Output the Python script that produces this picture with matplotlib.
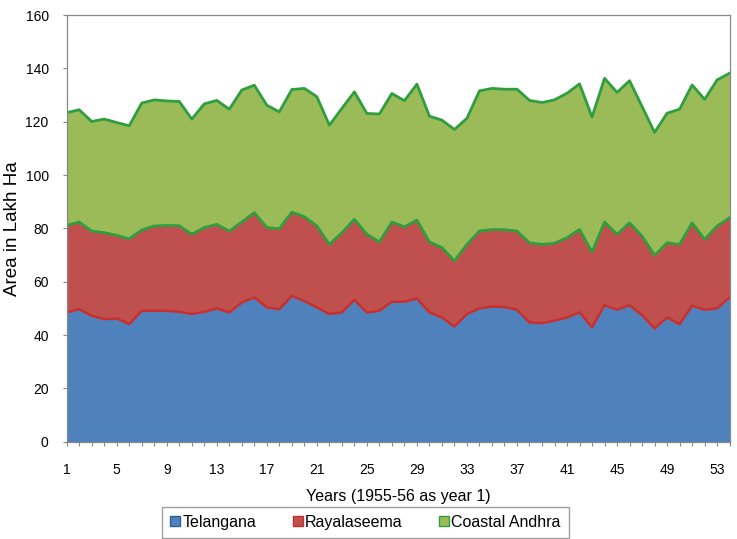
import numpy as np
import matplotlib.pyplot as plt
from matplotlib.patches import Patch

plt.rcParams['font.family'] = ['Liberation Sans', 'DejaVu Sans']

years = list(range(1, 55))

telangana = [48.5, 49.7, 47.2, 46.0, 46.2, 44.1, 49.1, 49.1, 49.1, 48.7,
             47.9, 48.7, 50.0, 48.5, 52.2, 54.1, 50.4, 49.7, 54.7, 52.8,
             50.4, 47.9, 48.5, 53.2, 48.5, 49.1, 52.5, 52.5, 53.7, 48.5,
             46.6, 43.2, 47.9, 50.0, 50.7, 50.5, 49.5, 44.7, 44.5, 45.4,
             46.6, 48.5, 42.9, 51.2, 49.5, 51.2, 47.5, 42.5, 46.6, 44.1,
             51.0, 49.5, 50.0, 54.1]

rayalaseema = [32.6, 32.7, 31.8, 32.4, 31.2, 32.0, 30.3, 31.8, 32.0, 32.3,
               29.9, 31.6, 31.5, 30.5, 30.2, 31.8, 29.9, 30.2, 31.4, 31.6,
               30.5, 26.1, 29.9, 30.2, 29.3, 25.8, 29.9, 28.1, 29.4, 26.4,
               26.2, 24.6, 26.1, 29.0, 28.9, 29.0, 29.5, 29.9, 29.5, 29.0,
               29.9, 31.1, 28.2, 31.2, 28.3, 30.9, 29.6, 27.4, 28.0, 29.9,
               31.1, 26.4, 30.9, 29.9]

coastal = [42.3, 42.1, 41.1, 42.6, 42.3, 42.4, 47.6, 47.3, 46.7, 46.6,
           43.2, 46.4, 46.5, 45.7, 49.5, 47.8, 45.9, 43.8, 46.0, 48.1,
           48.5, 44.7, 46.6, 47.8, 45.3, 48.0, 48.2, 47.3, 51.0, 47.2,
           47.8, 49.3, 47.3, 52.6, 52.9, 52.7, 53.2, 53.4, 53.2, 53.8,
           54.2, 54.6, 50.7, 53.9, 53.2, 53.3, 48.6, 46.1, 48.6, 50.7,
           51.7, 52.5, 54.8, 54.2]

labels = ['Telangana', 'Rayalaseema', 'Coastal Andhra']
fills = ['#4F81BD', '#C0504D', '#9BBB59']
edges = ['#2F5F9A', '#C8302E', '#2E9E3E']

x = np.array(years)
b1 = np.array(telangana)
b2 = b1 + np.array(rayalaseema)
b3 = b2 + np.array(coastal)

fig = plt.figure(figsize=(7.37, 5.39), dpi=100)
ax = fig.add_axes([0.0905, 0.1805, 0.8995, 0.7915])

# stacked areas, outlines like the Excel original
ax.fill_between(x, 0, b1, color=fills[0], lw=0)
ax.fill_between(x, b1, b2, color=fills[1], lw=0)
ax.fill_between(x, b2, b3, color=fills[2], lw=0)
ax.plot(x, b1, color=edges[1], lw=1.8)
ax.plot(x, b2, color=edges[2], lw=2.0)
ax.plot(x, b3, color=edges[2], lw=2.0)

ax.set_xlim(1, 54)
ax.set_ylim(0, 160)
ax.set_yticks(range(0, 161, 20))
ax.set_xticks(years)
ax.set_xticklabels([str(y) if (y - 1) % 4 == 0 else '' for y in years])
ax.tick_params(axis='both', labelsize=10, color='#888888', length=3)
ax.tick_params(axis='x', pad=12)
ax.tick_params(axis='y', pad=10)

for s in ax.spines.values():
    s.set_color('#888888')
    s.set_linewidth(0.9)

ax.set_xlabel('Years (1955-56 as year 1)', fontsize=11.5, labelpad=9)
ax.set_ylabel('Area in Lakh Ha', fontsize=13.5, labelpad=3)

handles = [Patch(facecolor=f, edgecolor=e, lw=1.0) for f, e in zip(fills, edges)]
fig.legend(handles, labels, loc='center', bbox_to_anchor=(0.496, 0.0315),
           ncol=3, fontsize=11.5, frameon=True, fancybox=False,
           edgecolor='#888888', handlelength=0.6, handleheight=0.6,
           handletextpad=0.15, columnspacing=2.3, borderpad=0.5)

fig.savefig('out.png', dpi=100)
